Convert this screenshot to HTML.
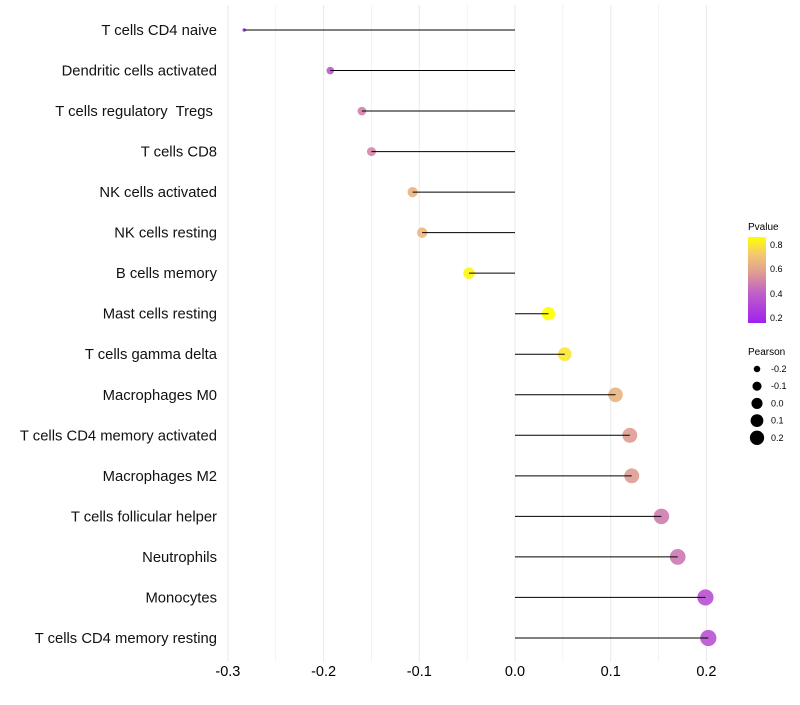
<!DOCTYPE html>
<html><head><meta charset="utf-8"><style>
body{margin:0;background:#fff;font-family:"Liberation Sans",sans-serif}
svg text{font-family:"Liberation Sans",sans-serif;white-space:pre}
</style></head><body>
<svg id="chart" width="800" height="700" viewBox="0 0 800 700" xmlns="http://www.w3.org/2000/svg">
<defs><linearGradient id="pg" x1="0" y1="1" x2="0" y2="0">
<stop offset="0" stop-color="#a020f0"/><stop offset="0.35" stop-color="#c060c8"/><stop offset="0.6" stop-color="#e0a090"/><stop offset="0.8" stop-color="#f4c870"/><stop offset="1" stop-color="#ffff00"/></linearGradient></defs>
<g id="grid"></g>
<g id="marks"></g>
<g id="ylabels"></g>
<g id="xlabels"></g>
<g>
<text x="748" y="230" font-size="10">Pvalue</text>
<rect x="748" y="237" width="18" height="86" fill="url(#pg)"/>
<text x="770" y="248" font-size="9">0.8</text>
<text x="770" y="272" font-size="9">0.6</text>
<text x="770" y="297" font-size="9">0.4</text>
<text x="770" y="321" font-size="9">0.2</text>
</g>
<g id="sizeleg">
<text x="748" y="355" font-size="10">Pearson</text>
</g>
</svg>
<script>
const categories=["T cells CD4 naive","Dendritic cells activated","T cells regulatory  Tregs ","T cells CD8","NK cells activated","NK cells resting","B cells memory","Mast cells resting","T cells gamma delta","Macrophages M0","T cells CD4 memory activated","Macrophages M2","T cells follicular helper","Neutrophils","Monocytes","T cells CD4 memory resting"];
const pearson=[-0.283,-0.193,-0.160,-0.150,-0.107,-0.097,-0.048,0.035,0.052,0.105,0.120,0.122,0.153,0.170,0.199,0.202];
const pvalue=[0.18,0.36,0.48,0.5,0.64,0.66,0.84,0.86,0.80,0.64,0.56,0.56,0.47,0.46,0.33,0.34];
const xTicks=[-0.3,-0.2,-0.1,0.0,0.1,0.2];
const xTickLabels=["-0.3","-0.2","-0.1","0.0","0.1","0.2"];
const sizeLegendValues=[-0.2,-0.1,0.0,0.1,0.2];
const NS="http://www.w3.org/2000/svg";
const X=v=>515+v*957;
const Y=i=>30+i*40.53;
const R=v=>Math.sqrt(Math.max(0.5,3+130*(v+0.283)));
function C(p){const t=Math.max(0,Math.min(1,(p-0.14)/0.72));
const st=[[0,[160,32,240]],[0.35,[192,96,200]],[0.6,[224,160,144]],[0.8,[244,200,112]],[1,[255,255,0]]];
for(let k=1;k<st.length;k++){if(t<=st[k][0]){const a=st[k-1],b=st[k];const f=(t-a[0])/(b[0]-a[0]);const c=a[1].map((x,j)=>Math.round(x+(b[1][j]-x)*f));return `rgb(${c})`;}}return "rgb(255,255,0)";}
function mk(tag,at,par){const e=document.createElementNS(NS,tag);for(const k in at)e.setAttribute(k,at[k]);par.appendChild(e);return e;}
const grid=document.getElementById('grid'),marks=document.getElementById('marks'),yl=document.getElementById('ylabels'),xl=document.getElementById('xlabels');
for(let v=-0.3;v<=0.2001;v+=0.05){const g=mk('line',{x1:X(v),x2:X(v),y1:5,y2:662,stroke:'#ebebeb','stroke-width':Math.abs(Math.round(v*20))%2===0?1.1:0.6},grid);

}
xTicks.forEach((v,i)=>{const t=mk('text',{x:X(v),y:676,'font-size':14.5,'text-anchor':'middle',fill:'#000'},xl);t.textContent=xTickLabels[i];

});
categories.forEach((c,i)=>{const y=Y(i);
const t=mk('text',{x:217,y:y+5,'font-size':14.8,'text-anchor':'end',fill:'#111'},yl);t.textContent=c;


const ci=mk('circle',{cx:X(pearson[i]),cy:y,r:R(pearson[i]),fill:C(pvalue[i]),'fill-opacity':0.9},marks);


const l=mk('line',{x1:X(0),x2:X(pearson[i]),y1:y,y2:y,stroke:'#000','stroke-width':1},marks);

});
const sl=document.getElementById('sizeleg');
sizeLegendValues.forEach((v,i)=>{const y=369+i*17.2;
const c=mk('circle',{cx:757,cy:y,r:R(v)*0.88,fill:'#000'},sl);


const t=mk('text',{x:771,y:y+3,'font-size':9},sl);t.textContent=v.toFixed(1);

});
</script>
</body></html>
